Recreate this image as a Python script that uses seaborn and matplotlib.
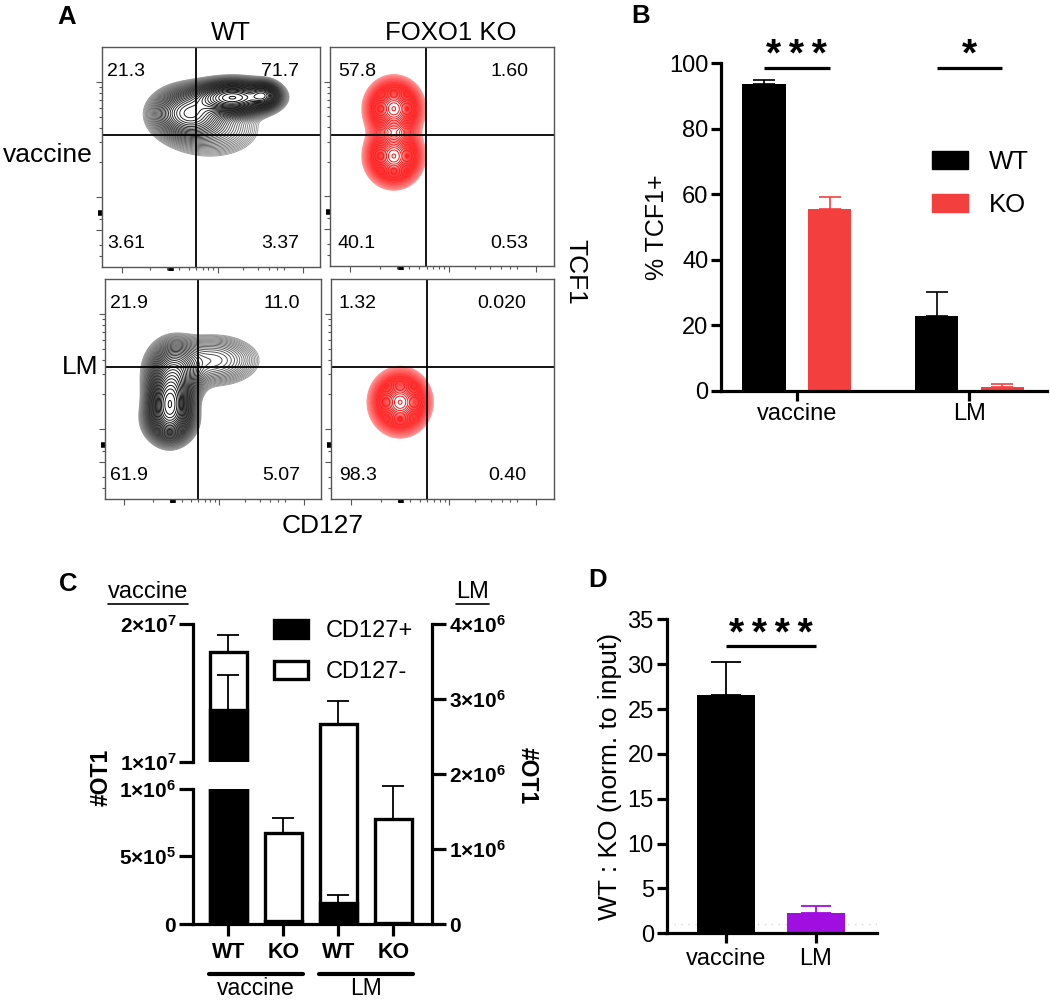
import numpy as np
import pandas as pd
import matplotlib
matplotlib.use("Agg")
import matplotlib.pyplot as plt
import seaborn as sns
import matplotlib.transforms as mtransforms
from matplotlib.lines import Line2D
from matplotlib.patches import Patch
from matplotlib.colors import LinearSegmentedColormap

# ---------------- data ----------------
# A: quadrant frequencies (upper left, upper right, lower left, lower right)
quad_wt_vaccine = ["21.3", "71.7", "3.61", "3.37"]
quad_ko_vaccine = ["57.8", "1.60", "40.1", "0.53"]
quad_wt_lm = ["21.9", "11.0", "61.9", "5.07"]
quad_ko_lm = ["1.32", "0.020", "98.3", "0.40"]

# A: populations, display scale 0-100
# (CD127 centre, TCF1 centre, CD127 spread, TCF1 spread, weight)
pops_wt_vaccine = [(60, 77, 8.5, 3.5, 1.0), (74, 78, 3.5, 2.8, 0.6), (40, 70, 8, 5.5, 0.35), (50, 63, 12, 7, 0.06)]
pops_ko_vaccine = [(28.5, 72, 4.8, 5.2, 1.0), (28.5, 50, 4.8, 5.2, 1.0), (28.5, 61, 5, 6, 0.12)]
pops_wt_lm = [(30, 44, 4.5, 7, 1.0), (32, 57, 6, 7, 0.35), (50, 63, 11, 6, 0.09), (30, 36, 5.5, 5, 0.3)]
pops_ko_lm = [(31, 44, 5, 5.5, 1.0)]
gate_cd127 = 43
gate_tcf1 = 60

# B: % TCF1+
infections = ["vaccine", "LM"]
tcf1_wt = [93.8, 22.9]
tcf1_wt_sem = [1.0, 7.1]
tcf1_ko = [55.5, 1.2]
tcf1_ko_sem = [3.8, 0.8]

# C: number of OT1 cells (vaccine on left axis, LM on right axis)
c_groups = ["WT vaccine", "KO vaccine", "WT LM", "KO LM"]
c_ticklabels = ["WT", "KO", "WT", "KO"]
ot1_total = [1.80e7, 6.7e5, 2.67e6, 1.40e6]
ot1_total_sem = [1.2e6, 1.1e5, 3.0e5, 4.4e5]
ot1_cd127pos = [1.38e7, 2.0e4, 2.8e5, 1.0e4]
ot1_cd127pos_sem = [2.5e6, 0, 1.1e5, 0]

# D: WT:KO ratio
ratio_groups = ["vaccine", "LM"]
ratio_mean = [26.6, 2.3]
ratio_sem = [3.6, 0.7]

RED = "#f43f3f"
PURPLE = "#a10ee0"

# ---------------- style ----------------
sns.set_theme(style="white")
plt.rcParams["font.family"] = ["Liberation Sans", "DejaVu Sans"]
plt.rcParams["mathtext.fontset"] = "custom"
plt.rcParams["mathtext.rm"] = "Liberation Sans"
plt.rcParams["mathtext.bf"] = "Liberation Sans:bold"
for key in ["text.color", "axes.labelcolor", "xtick.color", "ytick.color", "axes.edgecolor"]:
    plt.rcParams[key] = "black"

W, H = 1050, 1002
fig = plt.figure(figsize=(W / 100, H / 100), dpi=100)


def box(x0, y0, x1, y1):
    # axes placed in pixel coordinates (origin top-left)
    return fig.add_axes([x0 / W, 1 - y1 / H, (x1 - x0) / W, (y1 - y0) / H])


def ftext(x, y, s, **kw):
    return fig.text(x / W, 1 - y / H, s, **kw)


# ---------------- A: flow plots ----------------
grid = np.linspace(0, 100, 500)
gx, gy = np.meshgrid(grid, grid)
GREYS = LinearSegmentedColormap.from_list("flow_grey", ["#9a9a9a", "#303030", "#000000"])
REDS = LinearSegmentedColormap.from_list("flow_red", ["#ff9a9a", "#ff2020", "#ff0000"])


def log_ticks(a, b):
    return [a + (b - a) * np.log10(k) for k in range(2, 10)]


def flow_plot(ax, pops, cmap, quads, xl, xr):
    dens = np.zeros_like(gx)
    for cx, cy, sx, sy, w in pops:
        dens += w * np.exp(-0.5 * (((gx - cx) / sx) ** 2 + ((gy - cy) / sy) ** 2))
    levels = dens.max() * np.geomspace(0.012, 0.985, 40)
    cols = [cmap(v) for v in np.linspace(0, 1, len(levels))]
    ax.contour(gx, gy, dens, levels=levels, colors=cols, linewidths=0.65)
    ax.axvline(gate_cd127, color="black", lw=1.3)
    ax.axhline(gate_tcf1, color="black", lw=1.3)
    ax.set_xlim(0, 100)
    ax.set_ylim(0, 100)
    ax.set_xticks([9, 53, 92])
    ax.set_xticks(log_ticks(9, 53) + log_ticks(53, 92)[:5], minor=True)
    ax.set_yticks([17, 32, 84])
    ax.set_yticks(log_ticks(32, 84) + [5, 10, 22], minor=True)
    ax.tick_params(which="both", direction="out", labelbottom=False, labelleft=False,
                   bottom=True, left=True, color="#555555", width=0.8)
    ax.tick_params(which="major", length=4)
    ax.tick_params(which="minor", length=2.2)
    ax.plot([31.5, 31.5], [-2, 0], color="black", lw=4, clip_on=False, solid_capstyle="butt")
    ax.plot([-2, 0], [24.5, 24.5], color="black", lw=4, clip_on=False, solid_capstyle="butt")
    for s in ax.spines.values():
        s.set_color("#555555")
        s.set_linewidth(1)
    kw = dict(transform=ax.transAxes, va="center", fontsize=14)
    ax.text(xl, 0.89, quads[0], ha="left", **kw)
    ax.text(xr, 0.89, quads[1], ha="right", **kw)
    ax.text(xl, 0.105, quads[2], ha="left", **kw)
    ax.text(xr, 0.105, quads[3], ha="right", **kw)


flow_plot(box(102, 47, 320, 267), pops_wt_vaccine, GREYS, quad_wt_vaccine, 0.025, 0.905)
flow_plot(box(330, 47, 554, 266), pops_ko_vaccine, REDS, quad_ko_vaccine, 0.035, 0.885)
flow_plot(box(105, 279, 321, 499), pops_wt_lm, GREYS, quad_wt_lm, 0.025, 0.905)
flow_plot(box(331, 279, 554, 499), pops_ko_lm, REDS, quad_ko_lm, 0.035, 0.875)

ftext(231, 40, "WT", ha="center", va="baseline", fontsize=18.5)
ftext(451, 40, "FOXO1 KO", ha="center", va="baseline", fontsize=18.5)
ftext(93, 162, "vaccine", ha="right", va="baseline", fontsize=19)
ftext(98, 374, "LM", ha="right", va="baseline", fontsize=19)
ftext(323, 533, "CD127", ha="center", va="baseline", fontsize=19)
ftext(575, 272, "TCF1", ha="center", va="center", rotation=270, fontsize=19)

# panel letters
for lx, ly, letter in [(67, 24, "A"), (641, 23, "B"), (68, 591, "C"), (598, 587, "D")]:
    ftext(lx, ly, letter, ha="center", va="baseline", fontsize=18.5, fontweight="bold")

# ---------------- B: % TCF1+ ----------------
axB = box(721, 63.3, 1047, 390.7)
df_b = pd.DataFrame({
    "infection": infections * 2,
    "genotype": ["WT"] * 2 + ["KO"] * 2,
    "pct": tcf1_wt + tcf1_ko,
})
sns.barplot(data=df_b, x="infection", y="pct", hue="genotype", hue_order=["WT", "KO"],
            palette={"WT": "black", "KO": RED}, width=0.76, gap=0.34, saturation=1,
            errorbar=None, linewidth=0, legend=False, ax=axB)
centres_b = []
for cont, sems, col in zip(axB.containers, [tcf1_wt_sem, tcf1_ko_sem], ["black", RED]):
    cx = []
    for bar, s in zip(cont, sems):
        xc = bar.get_x() + bar.get_width() / 2
        cx.append(xc)
        axB.errorbar(xc, bar.get_height(), yerr=[[0], [s]], fmt="none", ecolor=col,
                     capsize=8, elinewidth=1.2, capthick=1.2)
    centres_b.append(cx)
axB.set_ylim(0, 100)
axB.set_xlim(-0.44, 1.45)
axB.set_yticks(range(0, 101, 20))
axB.set_xlabel("")
axB.set_ylabel("% TCF1+", fontsize=18)
axB.yaxis.set_label_coords(-0.158, 0.5)
sns.despine(ax=axB)
for s in ["left", "bottom"]:
    axB.spines[s].set_linewidth(2.3)
axB.tick_params(axis="both", width=2.3, length=7, labelsize=17, pad=2, left=True, bottom=True)
for i, stars in enumerate(["*\u2009*\u2009*", "*"]):
    x0, x1 = centres_b[0][i], centres_b[1][i]
    axB.plot([x0, x1], [98.7, 98.7], color="black", lw=2.3, clip_on=False, solid_capstyle="butt")
    axB.text((x0 + x1) / 2, 99.3, stars, ha="center", va="baseline", fontsize=28,
             fontweight="bold", clip_on=False)
axB.legend([Patch(facecolor="black", edgecolor="black"), Patch(facecolor=RED, edgecolor=RED)],
           ["WT", "KO"], loc="upper left", bbox_to_anchor=(932 / W, 1 - 150 / H),
           bbox_transform=fig.transFigure, frameon=False, fontsize=18.5, handlelength=1.4,
           handleheight=0.7, handletextpad=0.8, labelspacing=0.75, borderpad=0, borderaxespad=0)

# ---------------- C: #OT1, broken left axis + right axis ----------------
ax_cu = box(193, 624, 432, 762)
ax_cl = box(193, 788.5, 432, 924)
ax_cr = box(193, 624, 432, 924)
ax_cr.patch.set_alpha(0)


def stacked(ax, idx):
    d = pd.DataFrame({
        "group": [c_groups[i] for i in idx],
        "total": [ot1_total[i] for i in idx],
        "pos": [ot1_cd127pos[i] for i in idx],
    })
    common = dict(data=d, x="group", order=c_groups, width=0.67, saturation=1,
                  errorbar=None, edgecolor="black", linewidth=2.4, ax=ax)
    sns.barplot(y="total", color="white", **common)
    sns.barplot(y="pos", color="black", **common)
    pos = dict(zip([t.get_text() for t in ax.get_xticklabels()], ax.get_xticks()))
    for i in idx:
        x = pos[c_groups[i]]
        ax.errorbar(x, ot1_total[i], yerr=[[0], [ot1_total_sem[i]]], fmt="none",
                    ecolor="black", capsize=8, elinewidth=1.3, capthick=1.3)
        if ot1_cd127pos_sem[i] > 0:
            ax.errorbar(x, ot1_cd127pos[i], yerr=[[0], [ot1_cd127pos_sem[i]]], fmt="none",
                        ecolor="black", capsize=8, elinewidth=1.3, capthick=1.3)
    return pos


pos_c = stacked(ax_cu, [0, 1])
stacked(ax_cl, [0, 1])
stacked(ax_cr, [2, 3])

for ax in [ax_cu, ax_cl, ax_cr]:
    ax.set_xlim(-0.645, 3.7)
    ax.set_xlabel("")
    ax.set_ylabel("")
    for s in ax.spines.values():
        s.set_visible(False)
        s.set_linewidth(2.3)
    ax.tick_params(axis="y", width=2.3, length=10, pad=2, labelsize=15)

ax_cu.set_ylim(1e7, 2e7)
ax_cu.set_yticks([1e7, 2e7], labels=[r"$\mathbf{1×10^{7}}$", r"$\mathbf{2×10^{7}}$"])
ax_cu.spines["left"].set_visible(True)
ax_cu.tick_params(axis="y", left=True)
ax_cu.tick_params(axis="x", bottom=False, labelbottom=False)

ax_cl.set_ylim(0, 1e6)
ax_cl.set_yticks([0, 5e5, 1e6],
                 labels=[r"$\mathbf{0}$", r"$\mathbf{5×10^{5}}$", r"$\mathbf{1×10^{6}}$"])
ax_cl.spines["left"].set_visible(True)
ax_cl.spines["bottom"].set_visible(True)
ax_cl.tick_params(axis="y", left=True)
ax_cl.set_xticks([pos_c[g] for g in c_groups], labels=c_ticklabels)
ax_cl.tick_params(axis="x", bottom=True, width=2.3, length=8.6, pad=4, labelsize=15.5)
for lbl in ax_cl.get_xticklabels():
    lbl.set_fontweight("bold")

ax_cr.set_ylim(0, 4e6)
ax_cr.set_yticks([0, 1e6, 2e6, 3e6, 4e6],
                 labels=[r"$\mathbf{0}$"] + [r"$\mathbf{%d×10^{6}}$" % k for k in range(1, 5)])
ax_cr.spines["right"].set_visible(True)
ax_cr.yaxis.tick_right()
ax_cr.tick_params(axis="y", right=True, left=False)
ax_cr.tick_params(axis="x", bottom=False, labelbottom=False)

ftext(101, 777, "#OT1", ha="center", va="center", rotation=90, fontsize=16.5, fontweight="bold")
ftext(527, 776, "#OT1", ha="center", va="center", rotation=270, fontsize=16.5, fontweight="bold")

# group bars under the x axis
blend = mtransforms.blended_transform_factory(ax_cl.transData, ax_cl.transAxes)
for first, last, name in [(0, 1, "vaccine"), (2, 3, "LM")]:
    xa, xb = pos_c[c_groups[first]] - 0.36, pos_c[c_groups[last]] + 0.36
    ax_cl.plot([xa, xb], [-0.37, -0.37], transform=blend, color="black", lw=3,
               solid_capstyle="round", clip_on=False)
    ax_cl.text((xa + xb) / 2, -0.475, name, transform=blend, ha="center", va="center", fontsize=16.5)

# underlined headers
hdrs = [ftext(108, 598, "vaccine", ha="left", va="baseline", fontsize=17),
        ftext(456, 598, "LM", ha="left", va="baseline", fontsize=17)]
fig.canvas.draw()
renderer = fig.canvas.get_renderer()
for t in hdrs:
    bb = t.get_window_extent(renderer)
    yline = (bb.y0 - 1) / H
    fig.add_artist(Line2D([bb.x0 / W, bb.x1 / W], [yline, yline], color="black", lw=1.2))

ax_cu.legend([Patch(facecolor="black", edgecolor="black", lw=2.4),
              Patch(facecolor="white", edgecolor="black", lw=2.4)],
             ["CD127+", "CD127-"], loc="upper left", bbox_to_anchor=(274 / W, 1 - 620 / H),
             bbox_transform=fig.transFigure, frameon=False, fontsize=17, handlelength=1.45,
             handleheight=0.8, handletextpad=0.75, labelspacing=0.8, borderpad=0, borderaxespad=0)

# ---------------- D: WT:KO ratio ----------------
axD = box(667, 619.3, 877, 933.3)
df_d = pd.DataFrame({"infection": ratio_groups, "ratio": ratio_mean})
sns.barplot(data=df_d, x="infection", y="ratio", hue="infection", palette=["black", PURPLE],
            width=0.65, saturation=1, errorbar=None, linewidth=0, legend=False, ax=axD)
centres_d = []
for bar, s, col in zip(axD.patches, ratio_sem, ["black", PURPLE]):
    xc = bar.get_x() + bar.get_width() / 2
    centres_d.append(xc)
    axD.errorbar(xc, bar.get_height(), yerr=[[0], [s]], fmt="none", ecolor=col,
                 capsize=11, elinewidth=1.3, capthick=1.3)
axD.axhline(1, color="#d8d8d8", ls=(0, (1, 4)), lw=1, zorder=0)
axD.set_ylim(0, 35)
axD.set_xlim(-0.66, 1.68)
axD.set_yticks(range(0, 36, 5))
axD.set_xlabel("")
axD.set_ylabel("WT : KO (norm. to input)", fontsize=19)
axD.yaxis.set_label_coords(-0.214, 0.5)
sns.despine(ax=axD)
for s in ["left", "bottom"]:
    axD.spines[s].set_linewidth(2.3)
axD.tick_params(axis="both", width=2.3, length=7.5, labelsize=17, pad=2, left=True, bottom=True)
axD.tick_params(axis="x", pad=3)
axD.plot([centres_d[0], centres_d[1]], [32.0, 32.0], color="black", lw=2.3, clip_on=False,
         solid_capstyle="butt")
axD.text(sum(centres_d) / 2, 32.1, "*\u2009*\u2009*\u2009*", ha="center", va="baseline", fontsize=28,
         fontweight="bold", clip_on=False)

fig.savefig("out.png", dpi=100)
